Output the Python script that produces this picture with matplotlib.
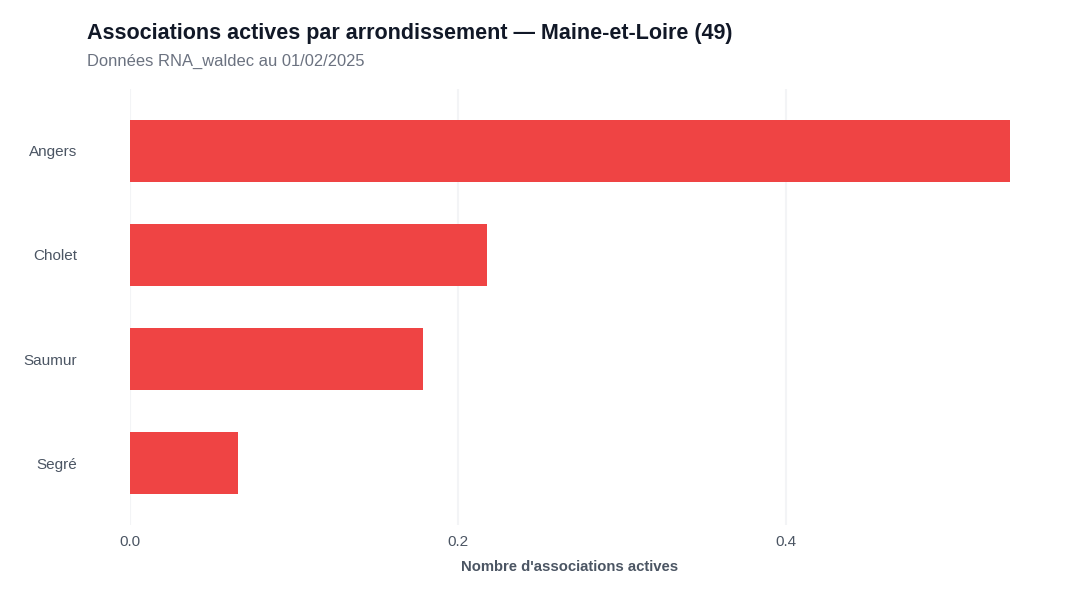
import matplotlib
matplotlib.use("Agg")
import matplotlib.pyplot as plt

categories = ["Angers", "Cholet", "Saumur", "Segré"]
values = [0.537, 0.218, 0.179, 0.066]
xticks = [0.0, 0.2, 0.4]
xtick_labels = ["0.0", "0.2", "0.4"]

plt.rcParams['font.family'] = ['Liberation Sans', 'DejaVu Sans']

fig = plt.figure(figsize=(10.8, 6), dpi=100)
ax_left, ax_right = 130, 1048
ax = fig.add_axes([ax_left/1080, 1 - 525/600, (ax_right-ax_left)/1080, (525-89)/600])

ypos = list(range(len(categories)))
ax.barh(ypos, values, height=0.596, color="#EF4444", zorder=3)
ax.set_ylim(len(categories) - 1 + 0.596, -0.596)
ax.set_xlim(0, 0.56)

ax.set_yticks(ypos)
ax.set_yticklabels(categories)
ax.set_xticks(xticks)
ax.set_xticklabels(xtick_labels)
ax.tick_params(axis='y', length=0, pad=38, labelsize=11, labelcolor="#4B5563")
ax.tick_params(axis='x', length=0, pad=7, labelsize=11, labelcolor="#4B5563")

for s in ax.spines.values():
    s.set_visible(False)
ax.grid(axis='x', color="#F3F4F6", linewidth=1.5, zorder=0)
ax.set_axisbelow(True)

ax.set_xlabel("Nombre d'associations actives", fontsize=10.7, fontweight='bold',
              color="#4B5563")
ax.xaxis.set_label_coords((570 - ax_left) / (ax_right - ax_left), -(567 - 525) / 436)
ax.xaxis.label.set_va('center')

fig.text(87/1080, 1 - 33/600, "Associations actives par arrondissement — Maine-et-Loire (49)",
         fontsize=15.5, fontweight='bold', color="#111827", va='center', ha='left')
fig.text(87/1080, 1 - 61/600, "Données RNA_waldec au 01/02/2025",
         fontsize=11.9, color="#6B7280", va='center', ha='left')

fig.savefig("out.png", dpi=100, facecolor="white")
